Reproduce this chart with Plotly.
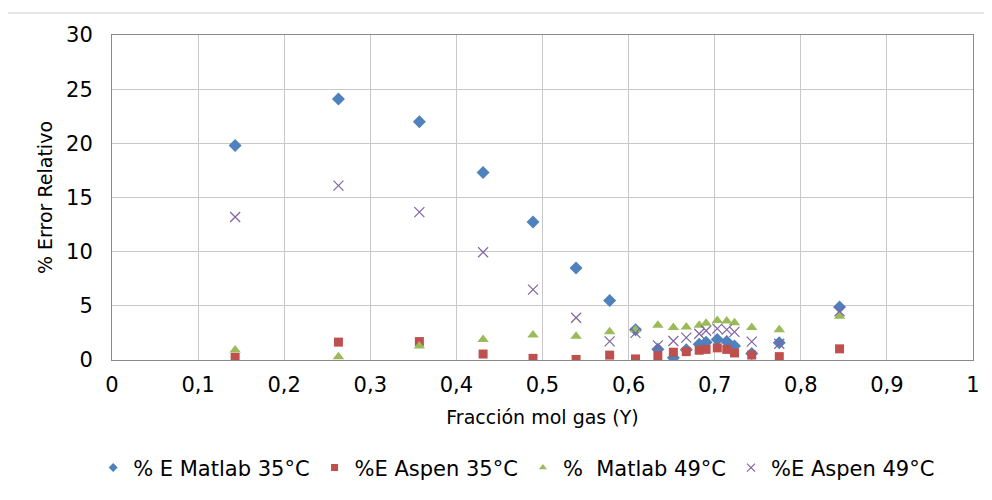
import plotly.graph_objects as go

x_frac = [0.143, 0.263, 0.357, 0.431, 0.489, 0.539, 0.578, 0.608, 0.634, 0.652,
          0.667, 0.682, 0.690, 0.703, 0.714, 0.723, 0.743, 0.775, 0.845]

matlab_35 = [19.8, 24.1, 22.0, 17.3, 12.75, 8.5, 5.5, 2.8, 1.0, 0.2,
             0.95, 1.45, 1.65, 1.9, 1.7, 1.3, 0.6, 1.6, 4.9]
aspen_35 = [0.25, 1.65, 1.7, 0.55, 0.15, 0.05, 0.45, 0.1, 0.4, 0.72,
            0.77, 0.9, 0.98, 1.12, 0.98, 0.65, 0.46, 0.31, 1.03]
matlab_49 = [0.92, 0.3, 1.3, 1.9, 2.3, 2.2, 2.6, 2.8, 3.2, 3.0,
             3.05, 3.2, 3.4, 3.65, 3.6, 3.45, 3.0, 2.8, 4.05]
aspen_49 = [13.2, 16.1, 13.65, 9.95, 6.5, 3.9, 1.72, 2.5, 1.35, 1.75,
            2.07, 2.42, 2.7, 2.9, 2.8, 2.6, 1.69, 1.5, 4.5]

series_names = ["% E Matlab 35°C", "%E Aspen 35°C", "%  Matlab 49°C", "%E Aspen 49°C"]
x_ticks = [0, 0.1, 0.2, 0.3, 0.4, 0.5, 0.6, 0.7, 0.8, 0.9, 1]
y_ticks = [0, 5, 10, 15, 20, 25, 30]

FONT = "DejaVu Sans, Arial, sans-serif"

styles = [
    dict(symbol="diamond", size=10, color="#4F81BD"),
    dict(symbol="square", size=9, color="#C0504D"),
    dict(symbol="triangle-up", size=10, color="#9BBB59"),
    dict(symbol="x-thin", size=10, color="#8064A2", line=dict(width=1.2, color="#8064A2")),
]
legend_sizes = [7, 7, 7, 8]
values = [matlab_35, aspen_35, matlab_49, aspen_49]

fig = go.Figure()
for name, vals, st in zip(series_names, values, styles):
    fig.add_trace(go.Scatter(x=x_frac, y=vals, mode="markers", name=name,
                             legendgroup=name, showlegend=False, marker=st))
for name, st, ls in zip(series_names, styles, legend_sizes):
    small = dict(st)
    small["size"] = ls
    fig.add_trace(go.Scatter(x=[None], y=[None], mode="markers", name=name,
                             legendgroup=name, showlegend=True, marker=small))

fig.update_layout(
    width=984, height=492,
    margin=dict(l=104, r=15, t=27, b=140),
    paper_bgcolor="white", plot_bgcolor="white",
    separators=",.",
    font=dict(family=FONT, size=19, color="#000000"),
    showlegend=True,
    legend=dict(orientation="h", x=0.47, xanchor="center", y=-0.332, yanchor="middle",
                font=dict(size=21), itemsizing="trace", tracegroupgap=0),
    xaxis=dict(range=[0, 1], tickvals=x_ticks, ticks="", showgrid=True,
               gridcolor="#C8C8C8", gridwidth=1, zeroline=False,
               showline=True, linecolor="#8A8A8A", linewidth=1, mirror=True,
               ticklabelstandoff=6,
               title=dict(text="Fracción mol gas (Y)", font=dict(size=19), standoff=14),
               tickfont=dict(size=21)),
    yaxis=dict(range=[0, 30], tickvals=y_ticks, ticks="", showgrid=True,
               gridcolor="#C8C8C8", gridwidth=1, zeroline=False,
               showline=True, linecolor="#8A8A8A", linewidth=1, mirror=True,
               ticklabelstandoff=14,
               title=dict(text="% Error Relativo", font=dict(size=19), standoff=8),
               tickfont=dict(size=21)),
)

# outer chart border (left and top edges visible)
fig.add_shape(type="rect", xref="paper", yref="paper",
              x0=(7 - 112) / 865, x1=(1010 - 112) / 865,
              y0=-(520 - 360) / 325, y1=(360 - 13) / 325,
              line=dict(color="#D0D0D0", width=1), fillcolor="rgba(0,0,0,0)", layer="below")

fig.write_html("out.html")
